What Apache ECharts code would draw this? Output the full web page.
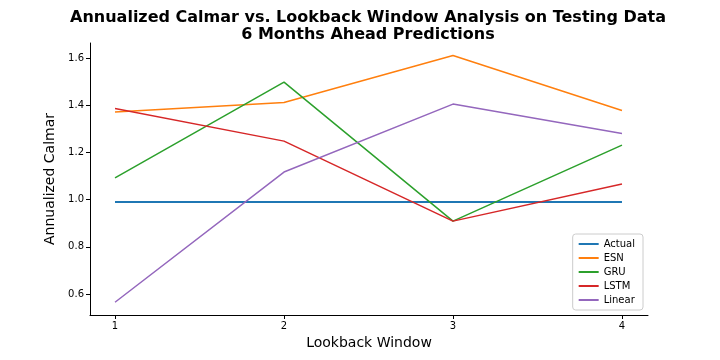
<!DOCTYPE html>
<html>
<head>
<meta charset="utf-8">
<title>Calmar</title>
<script src="https://cdn.jsdelivr.net/npm/echarts@6/dist/echarts.min.js"></script>
<style>
html, body { margin: 0; height: 100%; background: #fff; }
#main { width: 720px; height: 360px; }
</style>
</head>
<body>
<div id="main"></div>
<script>
var windows = [1, 2, 3, 4];
var actual = [0.99, 0.99, 0.99, 0.99];
var esn = [1.371, 1.412, 1.611, 1.378];
var gru = [1.092, 1.498, 0.909, 1.231];
var lstm = [1.386, 1.248, 0.909, 1.066];
var linear = [0.565, 1.117, 1.405, 1.28];
var yTicks = [0.6, 0.8, 1.0, 1.2, 1.4, 1.6];

var names = ['Actual', 'ESN', 'GRU', 'LSTM', 'Linear'];
var values = [actual, esn, gru, lstm, linear];
var colors = ['#1f77b4', '#ff7f0e', '#2ca02c', '#d62728', '#9467bd'];

function pairs(v) {
    return windows.map(function (w, i) { return [w, v[i]]; });
}

var series = names.map(function (n, i) {
    return {
        name: n,
        type: 'line',
        data: pairs(values[i]),
        showSymbol: false,
        symbol: 'none',
        lineStyle: { width: i === 0 ? 1.8 : 1.5, color: colors[i] },
        itemStyle: { color: colors[i] },
        animation: false
    };
});

var chart = echarts.init(document.getElementById('main'));
chart.setOption({
    animation: false,
    title: {
        text: 'Annualized Calmar vs. Lookback Window Analysis on Testing Data\n6 Months Ahead Predictions',
        left: 363,
        textAlign: 'center',
        top: 4,
        textStyle: { fontFamily: 'DejaVu Sans', fontSize: 16, fontWeight: 'bold', color: '#000', lineHeight: 17 }
    },
    legend: {
        orient: 'vertical',
        right: 77,
        bottom: 50,
        data: names,
        icon: 'rect',
        itemWidth: 20,
        itemHeight: 2,
        itemGap: 4,
        padding: [5, 8, 5, 6],
        borderColor: '#ccc',
        borderWidth: 1,
        borderRadius: 3,
        backgroundColor: 'rgba(255,255,255,0.8)',
        textStyle: { fontFamily: 'DejaVu Sans', fontSize: 10, color: '#000' }
    },
    grid: { left: 90, right: 72, top: 43, bottom: 45, containLabel: false },
    xAxis: {
        type: 'value',
        min: 0.852,
        max: 4.154,
        name: 'Lookback Window',
        nameLocation: 'middle',
        nameGap: 21,
        nameTextStyle: { fontFamily: 'DejaVu Sans', fontSize: 14, color: '#000' },
        axisLine: { lineStyle: { color: '#000', width: 1 } },
        axisTick: { show: true, customValues: windows, length: 4, lineStyle: { color: '#000' } },
        axisLabel: { customValues: windows, fontFamily: 'DejaVu Sans', fontSize: 10, color: '#000', margin: 6 },
        splitLine: { show: false }
    },
    yAxis: {
        type: 'value',
        min: 0.511,
        max: 1.664,
        name: 'Annualized Calmar',
        nameLocation: 'middle',
        nameGap: 30,
        nameTextStyle: { fontFamily: 'DejaVu Sans', fontSize: 14, color: '#000' },
        axisLine: { show: true, lineStyle: { color: '#000', width: 1 } },
        axisTick: { show: true, customValues: yTicks, length: 4, lineStyle: { color: '#000' } },
        axisLabel: {
            customValues: yTicks,
            fontFamily: 'DejaVu Sans', fontSize: 10, color: '#000', margin: 6,
            formatter: function (v) { return v.toFixed(1); }
        },
        splitLine: { show: false }
    },
    series: series
});
</script>
</body>
</html>
